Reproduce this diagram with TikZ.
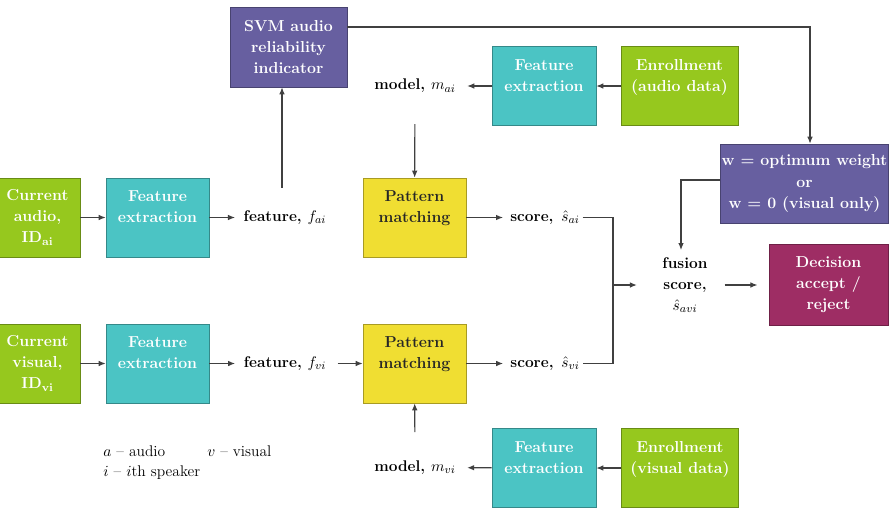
\documentclass[tikz,border=0pt]{standalone}
\usetikzlibrary{arrows.meta}
\definecolor{limeg}{RGB}{150,200,30}
\definecolor{tealb}{RGB}{75,196,196}
\definecolor{violetb}{RGB}{103,95,160}
\definecolor{yellowb}{RGB}{240,222,50}
\definecolor{plumb}{RGB}{158,45,100}
\begin{document}
\begin{tikzpicture}[x=0.025cm, y=-0.025cm, >={Latex[length=5pt,width=4pt]},
    box/.style={draw=#1!70!black, fill=#1, text=white, align=center, inner sep=1pt,
        minimum width=2.575cm, minimum height=1.975cm, font=\bfseries\fontsize{11.3}{15}\selectfont},
    lbl/.style={align=center, inner sep=2pt, font=\bfseries\fontsize{11}{15}\selectfont},
    note/.style={anchor=west, inner sep=0pt, font=\fontsize{11}{13}\selectfont},
    conn/.style={draw=black!75, line width=0.8pt}]
    \useasboundingbox (0,0) rectangle (893,507);
    % audio branch
    \node[box=limeg, minimum width=2.125cm] (curA) at (37.5,217.5) {Current\\audio,\\ID$_{\mathbf{ai}}$};
    \node[box=tealb] (feA) at (157.5,217.5) {Feature\\extraction\\~};
    \node[lbl] (featA) at (285,217.5) {feature, $f_{ai}$};
    \node[box=violetb, minimum width=2.925cm, minimum height=2cm] (svm) at (288.5,47) {SVM audio\\reliability\\indicator};
    \node[box=yellowb, text=black!85] (pmA) at (414.5,217.5) {Pattern\\matching\\~};
    \node[lbl] (modA) at (415,86) {model, $m_{ai}$};
    \node[box=tealb, minimum width=2.6cm] (feEA) at (544,86) {Feature\\extraction\\~};
    \node[box=limeg, minimum width=2.925cm] (enA) at (679.5,86) {Enrollment\\(audio data)\\~};
    \node[lbl] (scoA) at (545,217.5) {score,\enspace$\hat{s}_{ai}$};
    % fusion
    \node[box=violetb, minimum width=4.175cm] (wbox) at (804.5,183.5) {w = optimum weight\\or\\w = 0 (visual only)};
    \node[lbl] (fus) at (685,285) {fusion\\score,\\$\hat{s}_{avi}$};
    \node[box=plumb, minimum width=2.975cm, minimum height=2.025cm] (dec) at (828.5,285) {Decision\\accept /\\reject};
    \coordinate (jn) at (613,285);
    % visual branch
    \node[box=limeg, minimum width=2.125cm] (curV) at (37.5,363.5) {Current\\visual,\\ID$_{\mathbf{vi}}$};
    \node[box=tealb] (feV) at (157.5,363.5) {Feature\\extraction\\~};
    \node[lbl] (featV) at (285,363.5) {feature, $f_{vi}$};
    \node[box=yellowb, text=black!85] (pmV) at (414.5,363.5) {Pattern\\matching\\~};
    \node[lbl] (scoV) at (545,363.5) {score,\enspace$\hat{s}_{vi}$};
    \node[lbl] (modV) at (415,467.5) {model, $m_{vi}$};
    \node[box=tealb, minimum width=2.6cm, minimum height=1.975cm] (feEV) at (544,468) {Feature\\extraction\\~};
    \node[box=limeg, minimum width=2.925cm, minimum height=1.975cm] (enV) at (680,468) {Enrollment\\(visual data)\\~};
    % legend
    \node[note] (legA) at (103,451) {$a$ -- audio};
    \node[note] (legV) at (207,451) {$v$ -- visual};
    \node[note] (legI) at (103,473) {$i$ -- $i$th speaker};
    % connectors
    \draw[conn, ->] (curA) -- (feA);
    \draw[conn, ->, shorten >=4pt] (feA) -- (featA);
    \draw[conn, ->, shorten <=14pt] (featA.north -| 282,0) -- (svm.south -| 282,0);
    \draw[conn, ->, shorten <=20pt] (modA) -- (pmA);
    \draw[conn, ->] (enA) -- (feEA);
    \draw[conn, ->, shorten >=6pt] (feEA) -- (modA);
    \draw[conn, ->, shorten >=3pt] (pmA) -- (scoA);
    \draw[conn, ->] (svm.east |- 0,27) -| (wbox.north -| 810,0);
    \draw[conn, ->, shorten >=3pt] (wbox.west |- 0,180) -| (fus.north -| 681,0);
    \draw[conn] (scoA) -| (jn) |- (scoV);
    \draw[conn, ->, shorten >=16pt] (jn) -- (fus);
    \draw[conn, ->, shorten <=10pt, shorten >=8pt] (fus) -- (dec);
    \draw[conn, ->] (curV) -- (feV);
    \draw[conn, ->, shorten >=4pt] (feV) -- (featV);
    \draw[conn, ->, shorten <=6pt] (featV) -- (pmV);
    \draw[conn, ->, shorten >=3pt] (pmV) -- (scoV);
    \draw[conn, ->, shorten <=18pt] (modV) -- (pmV);
    \draw[conn, ->] (enV) -- (feEV);
    \draw[conn, ->, shorten >=6pt] (feEV) -- (modV);
\end{tikzpicture}
\end{document}
